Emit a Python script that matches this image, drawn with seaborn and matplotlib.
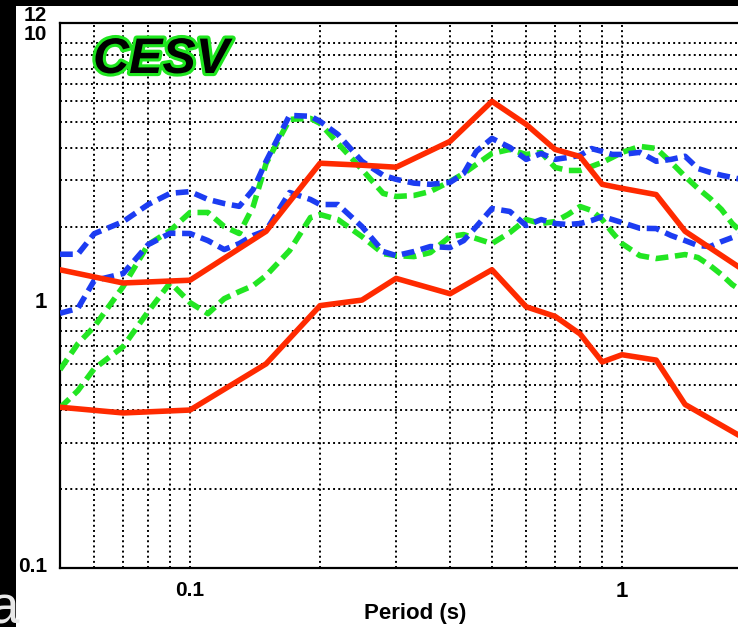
import matplotlib
matplotlib.use("Agg")
import matplotlib.pyplot as plt
import seaborn as sns
import pandas as pd
from matplotlib.ticker import LogLocator, FixedLocator, NullFormatter
from matplotlib.transforms import offset_copy
from matplotlib.patches import Rectangle
import matplotlib.patheffects as pe

# ---------------- data ----------------
red_periods = [0.05, 0.07, 0.1, 0.15, 0.2, 0.25, 0.3, 0.4, 0.5, 0.6, 0.7, 0.8, 0.9,
               1.0, 1.2, 1.4, 2.0]
red_upper = [1.37, 1.22, 1.25, 1.92, 3.49, 3.43, 3.37, 4.23, 6.01, 4.91, 3.94, 3.70,
             2.90, 2.80, 2.65, 1.92, 1.30]
red_lower = [0.41, 0.39, 0.40, 0.60, 1.00, 1.05, 1.27, 1.11, 1.37, 0.99, 0.91, 0.78,
             0.61, 0.65, 0.62, 0.42, 0.30]

dash_periods = [0.05, 0.055, 0.06, 0.07, 0.08, 0.09, 0.1, 0.11, 0.12, 0.13, 0.14, 0.15,
                0.17, 0.19, 0.2, 0.22, 0.25, 0.28, 0.3, 0.33, 0.36, 0.4, 0.43, 0.46,
                0.5, 0.55, 0.6, 0.65, 0.7, 0.75, 0.8, 0.85, 0.9, 0.95, 1.0, 1.1, 1.2,
                1.3, 1.4, 1.5, 1.6, 1.7, 1.8, 2.0]
blue_upper = [1.57, 1.57, 1.88, 2.09, 2.43, 2.68, 2.72, 2.54, 2.45, 2.39, 2.77, 3.55,
              5.31, 5.27, 5.04, 4.49, 3.55, 3.14, 3.03, 2.93, 2.90, 2.95, 3.19, 3.87,
              4.34, 4.01, 3.61, 3.80, 3.61, 3.67, 3.74, 3.97, 3.87, 3.77, 3.77, 3.84,
              3.55, 3.61, 3.71, 3.33, 3.22, 3.14, 3.08, 2.97]
blue_lower = [0.935, 0.976, 1.246, 1.325, 1.709, 1.888, 1.883, 1.770, 1.636, 1.724,
              1.850, 1.933, 2.700, 2.539, 2.429, 2.429, 2.002, 1.608, 1.551, 1.608,
              1.680, 1.665, 1.770, 2.002, 2.345, 2.285, 2.020, 2.129, 2.056, 2.038,
              2.056, 2.110, 2.186, 2.129, 2.074, 1.972, 1.967, 1.850, 1.770, 1.694,
              1.680, 1.755, 1.818, 1.916]
green_upper = [0.570, 0.716, 0.831, 1.182, 1.709, 1.933, 2.265, 2.265, 2.002, 1.883,
               2.387, 3.483, 5.128, 5.172, 4.951, 4.153, 3.305, 2.677, 2.606, 2.630,
               2.724, 2.973, 3.19, 3.452, 3.803, 3.939, 3.770, 3.837, 3.363, 3.275,
               3.275, 3.393, 3.514, 3.672, 3.837, 4.045, 3.974, 3.514, 3.107, 2.796,
               2.561, 2.325, 2.056, 1.755]
green_lower = [0.408, 0.474, 0.575, 0.698, 0.949, 1.224, 1.027, 0.932, 1.063, 1.131,
               1.192, 1.302, 1.621, 2.167, 2.225, 2.129, 1.834, 1.579, 1.551, 1.538,
               1.593, 1.834, 1.866, 1.802, 1.724, 1.899, 2.129, 2.056, 2.092, 2.225,
               2.387, 2.305, 2.129, 1.899, 1.724, 1.551, 1.512, 1.538, 1.566, 1.525,
               1.421, 1.313, 1.203, 1.073]

y_tick_values = [0.1, 1, 10, 12]
y_tick_labels = ["0.1", "1", "10", "12"]
x_tick_values = [0.1, 1]
x_tick_labels = ["0.1", "1"]
x_label = "Period (s)"
station = "CESV"
panel = "a"

# ---------------- style ----------------
sns.set_style("white")
plt.rcParams["font.family"] = ["Liberation Sans", "DejaVu Sans"]

W, H, DPI = 738, 627, 100
fig = plt.figure(figsize=(W / DPI, H / DPI), dpi=DPI, facecolor="white")

# black frame strips (top and left)
fig.patches.append(Rectangle((0, 1 - 6 / H), 1, 6 / H, transform=fig.transFigure,
                             facecolor="black", edgecolor="none", zorder=0))
fig.patches.append(Rectangle((0, 0), 16 / W, 1, transform=fig.transFigure,
                             facecolor="black", edgecolor="none", zorder=0))

ax_l, ax_r, ax_t, ax_b = 60, 752, 22.5, 568
ax = fig.add_axes([ax_l / W, (H - ax_b) / H, (ax_r - ax_l) / W, (ax_b - ax_t) / H])
ax.set_facecolor("white")
ax.set_xscale("log")
ax.set_yscale("log")

RED = "#ff2a00"
BLUE = "#1c3cf2"
GREEN = "#22e622"
LW = 4.0
DASH = (0, (2.3, 1.2))

dash_df = pd.DataFrame({"period": dash_periods, "blue_u": blue_upper, "blue_l": blue_lower,
                        "green_u": green_upper, "green_l": green_lower})
red_df = pd.DataFrame({"period": red_periods, "red_u": red_upper, "red_l": red_lower})

for col in ["green_u", "green_l"]:
    sns.lineplot(data=dash_df, x="period", y=col, ax=ax, color=GREEN, lw=LW,
                 linestyle=DASH, estimator=None, sort=False, zorder=3)
for col in ["blue_u", "blue_l"]:
    sns.lineplot(data=dash_df, x="period", y=col, ax=ax, color=BLUE, lw=LW,
                 linestyle=DASH, estimator=None, sort=False, zorder=4)
for col in ["red_u", "red_l"]:
    sns.lineplot(data=red_df, x="period", y=col, ax=ax, color=RED, lw=LW,
                 linestyle="-", estimator=None, sort=False, zorder=5)

ax.set_xlim(0.05, 2.0)
ax.set_ylim(0.1, 12)

ax.xaxis.set_major_locator(FixedLocator(x_tick_values))
ax.xaxis.set_minor_locator(LogLocator(base=10, subs=[2, 3, 4, 5, 6, 7, 8, 9]))
ax.yaxis.set_major_locator(FixedLocator([0.1, 1, 10]))
ax.yaxis.set_minor_locator(LogLocator(base=10, subs=[2, 3, 4, 5, 6, 7, 8, 9]))
ax.xaxis.set_major_formatter(NullFormatter())
ax.xaxis.set_minor_formatter(NullFormatter())
ax.yaxis.set_major_formatter(NullFormatter())
ax.yaxis.set_minor_formatter(NullFormatter())
ax.tick_params(which="both", length=0)
ax.grid(True, which="both", color="black", linestyle=":", linewidth=1.4, zorder=1)
ax.set_axisbelow(True)
ax.set_xlabel("")
ax.set_ylabel("")

for side in ["left", "bottom", "top"]:
    ax.spines[side].set_visible(True)
    ax.spines[side].set_color("black")
    ax.spines[side].set_linewidth(1.6)
ax.spines["right"].set_visible(False)

# y tick labels (12 and 10 nudged up as in the original)
y_offsets = {"0.1": 1, "1": 3, "10": 9, "12": 7}
y_sizes = {"0.1": 15, "1": 16, "10": 15, "12": 15}
for v, lab in zip(y_tick_values, y_tick_labels):
    tr = offset_copy(ax.get_yaxis_transform(), fig=fig, x=-13, y=y_offsets[lab], units="dots")
    ax.text(0, v, lab, transform=tr, ha="right", va="center", fontsize=y_sizes[lab],
            fontweight="bold", color="black", clip_on=False)

x_sizes = {"0.1": 15, "1": 16}
for v, lab in zip(x_tick_values, x_tick_labels):
    tr = offset_copy(ax.get_xaxis_transform(), fig=fig, x=0, y=-13, units="dots")
    ax.text(v, 0, lab, transform=tr, ha="center", va="top", fontsize=x_sizes[lab],
            fontweight="bold", color="black", clip_on=False)

fig.text(415 / W, 1 - 613 / H, x_label, ha="center", va="center", fontsize=16,
         fontweight="bold", color="black")

fig.text(93 / W, 1 - 73 / H, station, ha="left", va="baseline", fontsize=36,
         fontweight="bold", style="italic", color="black",
         path_effects=[pe.withStroke(linewidth=4.5, foreground="#1ee61e")])

fig.text(-10 / W, 4 / H, panel, ha="left", va="baseline", fontsize=38, color="#e8e8e8")

fig.savefig("out.png", dpi=DPI, facecolor="white")
